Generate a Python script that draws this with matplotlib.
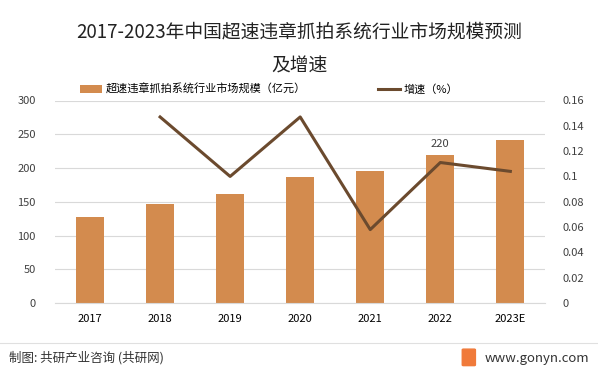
import matplotlib.pyplot as plt
from matplotlib.patches import FancyBboxPatch

plt.rcParams['font.family'] = ['Noto Sans CJK SC', 'DejaVu Sans']

years = ["2017", "2018", "2019", "2020", "2021", "2022", "2023E"]
market_size = [128, 146, 162, 186, 196, 220, 242]
growth_years = ["2018", "2019", "2020", "2021", "2022", "2023E"]
growth = [0.147, 0.100, 0.147, 0.058, 0.111, 0.104]

bar_color = "#D38B4E"
line_color = "#6B4A2E"

fig = plt.figure(figsize=(5.98, 3.75), dpi=100)
ax = fig.add_axes([0.092, 0.192, 0.82, 0.54])
ax2 = ax.twinx()

x = list(range(len(years)))
ax.bar(x, market_size, width=0.4, color=bar_color, zorder=2,
       label="超速违章抓拍系统行业市场规模（亿元）")
gx = [years.index(y) for y in growth_years]
ax2.plot(gx, growth, color=line_color, linewidth=2.2, label="增速（%）")

ax.annotate("220", (5, 220), xytext=(0, 4), textcoords="offset points",
            ha="center", va="bottom", fontsize=8, color="#404040")

ax.set_ylim(0, 300)
ax.set_yticks(range(0, 301, 50))
ax2.set_ylim(0, 0.16)
ax2.set_yticks([i * 0.02 for i in range(9)])
ax2.set_yticklabels(["0", "0.02", "0.04", "0.06", "0.08", "0.1", "0.12", "0.14", "0.16"])
ax.set_xlim(-0.5, 6.5)
ax.set_xticks(x)
ax.set_xticklabels(years)

ax.grid(axis="y", color="#D9D9D9", linewidth=0.8, zorder=0)
for a in (ax, ax2):
    for s in a.spines.values():
        s.set_visible(False)
    a.tick_params(length=0, labelsize=8, colors="#404040")
ax.spines["bottom"].set_visible(True)
ax.spines["bottom"].set_color("#D9D9D9")
ax.tick_params(axis="x", colors="black", pad=8)
ax.tick_params(axis="y", pad=14)
ax2.tick_params(axis="y", pad=12)

fig.text(0.5, 0.915, "2017-2023年中国超速违章抓拍系统行业市场规模预测", ha="center",
         va="center", fontsize=13.5, color="#222222")
fig.text(0.5, 0.825, "及增速", ha="center", va="center", fontsize=13.5, color="#222222")

h1, l1 = ax.get_legend_handles_labels()
h2, l2 = ax2.get_legend_handles_labels()
fig.legend(h1 + h2, l1 + l2, loc="center", bbox_to_anchor=(0.45, 0.762), ncol=2,
           frameon=False, fontsize=8, columnspacing=6.5, handlelength=2.0,
           handletextpad=0.3)

fig.add_artist(plt.Line2D([0.0, 1.0], [0.085, 0.085], color="#E0E0E0", linewidth=0.8))
fig.text(0.015, 0.045, "制图: 共研产业咨询 (共研网)", ha="left", va="center",
         fontsize=9, color="#333333")
fig.text(0.985, 0.045, "www.gonyn.com", ha="right", va="center",
         fontsize=9.5, color="#333333")
fig.add_artist(FancyBboxPatch((0.775, 0.027), 0.018, 0.04, boxstyle="round,pad=0.002",
                              transform=fig.transFigure, color="#F07A3A"))

fig.savefig("out.png", dpi=100)
